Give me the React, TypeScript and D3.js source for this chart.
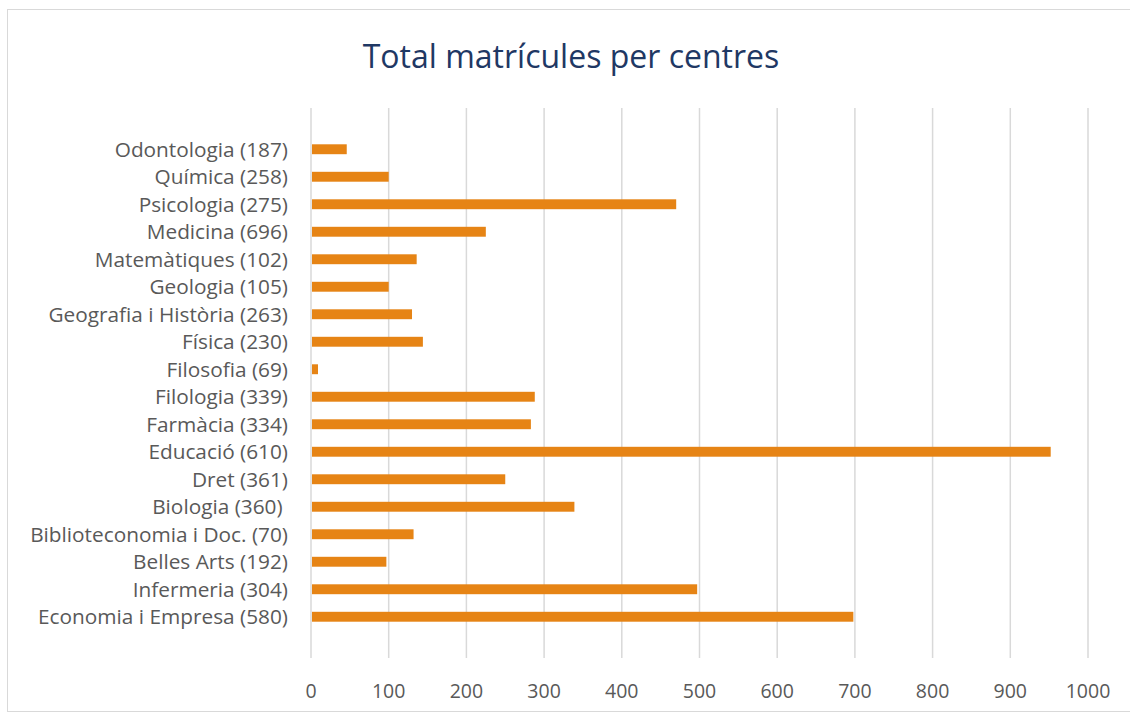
import React, { useEffect, useRef } from 'react';
import * as d3 from 'd3';

// categories from top to bottom, as drawn
const centres = [
  'Odontologia (187)',
  'Química (258)',
  'Psicologia (275)',
  'Medicina (696)',
  'Matemàtiques (102)',
  'Geologia (105)',
  'Geografia i Història (263)',
  'Física (230)',
  'Filosofia (69)',
  'Filologia (339)',
  'Farmàcia (334)',
  'Educació (610)',
  'Dret (361)',
  'Biologia (360) ',
  'Biblioteconomia i Doc. (70)',
  'Belles Arts (192)',
  'Infermeria (304)',
  'Economia i Empresa (580)',
];

const matricules = [46, 100, 470, 225, 136, 100, 130, 144, 9, 288, 283, 952, 250, 339, 132, 97, 497, 698];

const xTicks = [0, 100, 200, 300, 400, 500, 600, 700, 800, 900, 1000];

const title = 'Total matrícules per centres';

const W = 1130;
const H = 713;
const FONT = '"Open Sans", "Noto Sans", sans-serif';

export default function App() {
  const ref = useRef<SVGSVGElement>(null);

  useEffect(() => {
    const svg = d3.select(ref.current);
    svg.selectAll('*').remove();

    const plot = { left: 311, right: 1088, top: 108, bottom: 658 };

    const data = centres.map((c, i) => ({ name: c, value: matricules[i] }));

    const x = d3.scaleLinear().domain([0, 1000]).range([plot.left, plot.right]);
    const y = d3
      .scaleBand()
      .domain(centres)
      .range([plot.top, plot.bottom])
      .paddingInner(0.64)
      .paddingOuter(1.32);

    // chart frame
    svg
      .append('rect')
      .attr('x', 7.5)
      .attr('y', 9.5)
      .attr('width', 1200)
      .attr('height', 702)
      .attr('fill', '#fff')
      .attr('stroke', '#d9d9d9')
      .attr('stroke-width', 1);

    svg
      .append('text')
      .attr('x', 571)
      .attr('y', 68)
      .attr('text-anchor', 'middle')
      .attr('font-family', FONT)
      .attr('font-size', 32)
      .attr('fill', '#1f3864')
      .text(title);

    // vertical gridlines
    svg
      .append('g')
      .selectAll('line')
      .data(xTicks)
      .join('line')
      .attr('x1', (d) => x(d))
      .attr('x2', (d) => x(d))
      .attr('y1', plot.top)
      .attr('y2', plot.bottom)
      .attr('stroke', '#d9d9d9')
      .attr('stroke-width', 1.5);

    svg
      .append('g')
      .selectAll('rect')
      .data(data)
      .join('rect')
      .attr('x', x(0) + 1)
      .attr('y', (d) => y(d.name)!)
      .attr('width', (d) => x(d.value) - x(0) - 1)
      .attr('height', y.bandwidth())
      .attr('fill', '#e68415');

    svg
      .append('g')
      .selectAll('text')
      .data(data)
      .join('text')
      .attr('x', 288)
      .attr('y', (d) => y(d.name)! + y.bandwidth() / 2)
      .attr('dy', '0.35em')
      .attr('text-anchor', 'end')
      .attr('font-family', FONT)
      .attr('font-size', 20.8)
      .attr('fill', '#595959')
      .style('white-space', 'pre')
      .text((d) => d.name);

    svg
      .append('g')
      .selectAll('text')
      .data(xTicks)
      .join('text')
      .attr('x', (d) => x(d))
      .attr('y', 698)
      .attr('text-anchor', 'middle')
      .attr('font-family', FONT)
      .attr('font-size', 19.5)
      .attr('fill', '#595959')
      .text((d) => d);
  }, []);

  return (
    <svg
      ref={ref}
      width={W}
      height={H}
      style={{ position: 'absolute', left: 0, top: 0, background: '#fff' }}
    />
  );
}
